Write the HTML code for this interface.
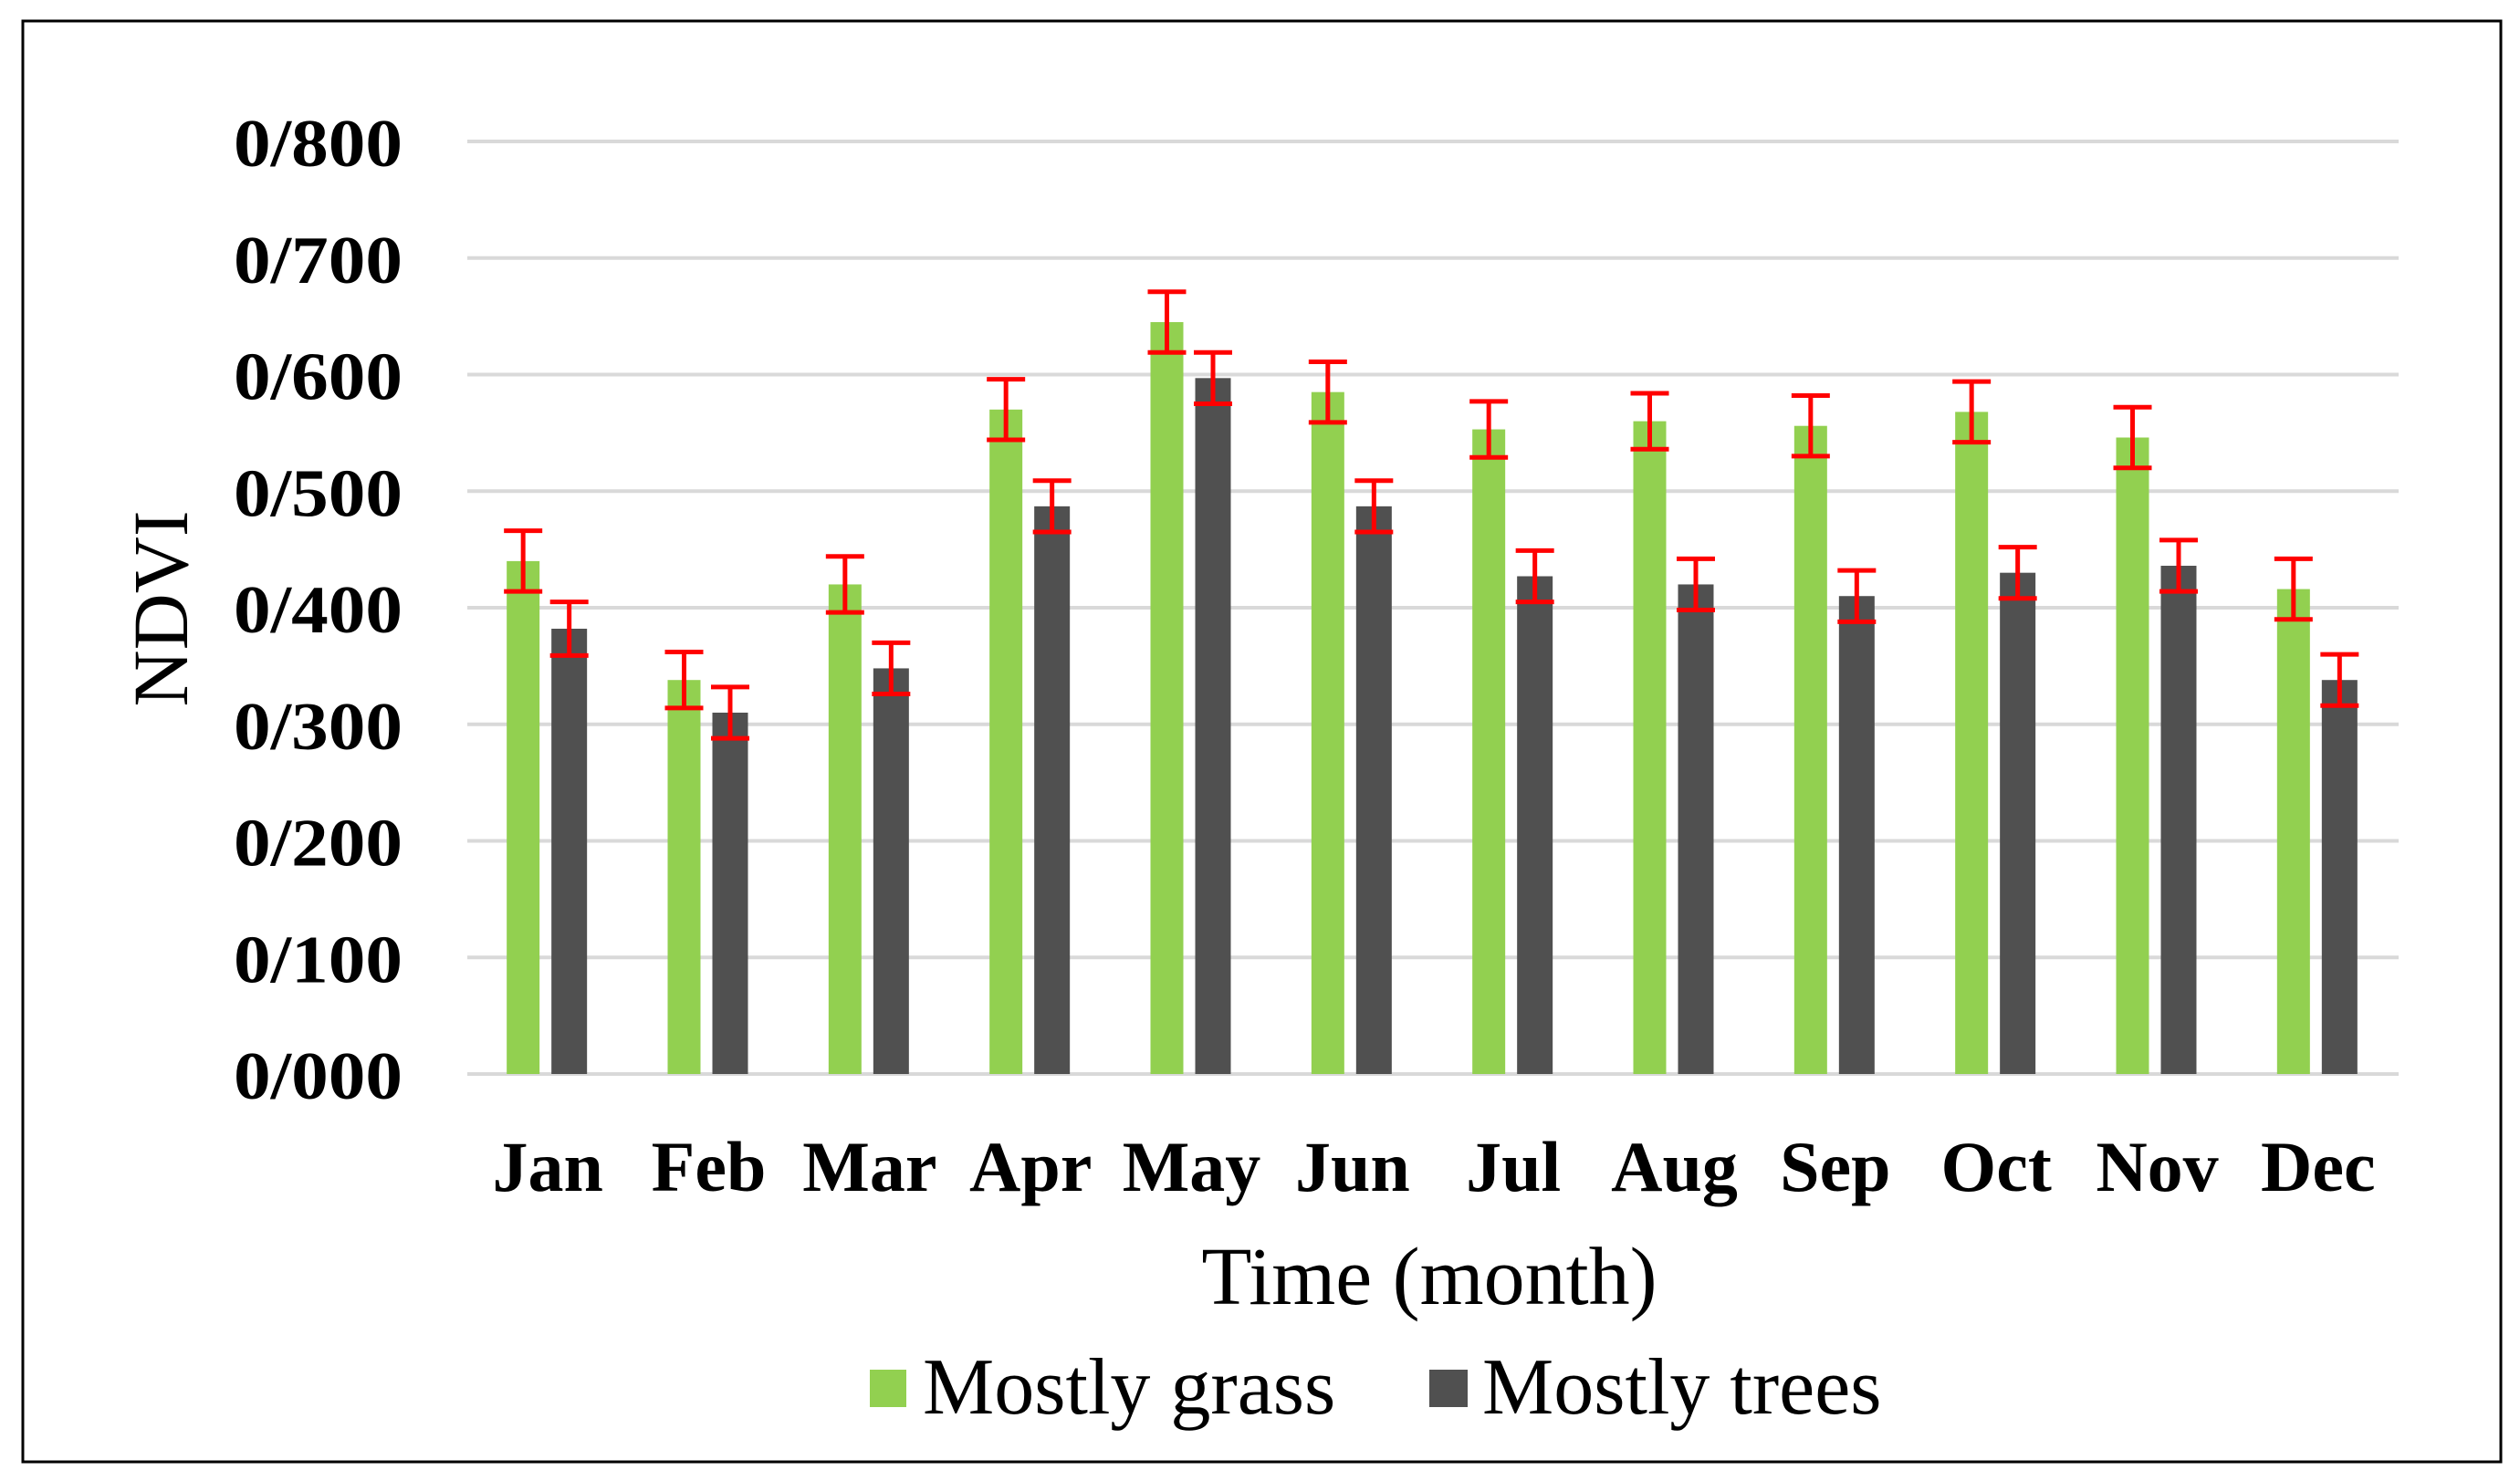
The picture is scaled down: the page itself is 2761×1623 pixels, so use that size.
<!DOCTYPE html>
<html><head><meta charset="utf-8"><style>
html,body{margin:0;padding:0;background:#fff;}
svg{display:block;}
text{font-family:"Liberation Serif",serif;fill:#000;}
</style></head><body>
<svg id="chart" width="2761" height="1623" viewBox="0 0 2761 1623">
<rect x="25" y="23" width="2715" height="1579" fill="#fff" stroke="#000" stroke-width="3"/>
<g id="grid"></g>
<g id="yticks"></g>
<g id="bars"></g>
<g id="xticks"></g>
<text x="176" y="667" font-size="86" text-anchor="middle" dominant-baseline="central" transform="rotate(-90 176 667)">NDVI</text>
<text x="1566" y="1429" font-size="90" text-anchor="middle">Time (month)</text>
<g>
<g>
<rect x="953" y="1501" width="40" height="41" fill="#92d050"/>
<text x="1011" y="1549" font-size="88">Mostly grass</text>
</g>
<g>
<rect x="1566" y="1501" width="42" height="41" fill="#505050"/>
<text x="1624" y="1549" font-size="88">Mostly trees</text>
</g>
</g>
</svg>
<script>
const categories=["Jan","Feb","Mar","Apr","May","Jun","Jul","Aug","Sep","Oct","Nov","Dec"];
const grassValues=[0.440,0.338,0.420,0.570,0.645,0.585,0.553,0.560,0.556,0.568,0.546,0.416];
const treesValues=[0.382,0.310,0.348,0.487,0.597,0.487,0.427,0.420,0.410,0.430,0.436,0.338];
const grassErrors=[0.026,0.024,0.024,0.026,0.026,0.026,0.024,0.024,0.026,0.026,0.026,0.026];
const treesErrors=[0.023,0.022,0.022,0.022,0.022,0.022,0.022,0.022,0.022,0.022,0.022,0.022];
const yTicks=[0,0.1,0.2,0.3,0.4,0.5,0.6,0.7,0.8];
const yTickLabels=["0/000","0/100","0/200","0/300","0/400","0/500","0/600","0/700","0/800"];

const NS="http://www.w3.org/2000/svg";
const X0=512,X1=2628,Y0=1177,Y1=155;
function y(v){return Y0-(v/0.8)*(Y0-Y1);}
const bw=(X1-X0)/categories.length;
function xc(i){return X0+bw*(i+0.5);}
function mk(tag,attrs,parent){const e=document.createElementNS(NS,tag);for(const k in attrs)e.setAttribute(k,attrs[k]);parent.appendChild(e);return e;}
const grid=document.getElementById('grid'),yt=document.getElementById('yticks'),bars=document.getElementById('bars'),xt=document.getElementById('xticks');
yTicks.forEach((t,i)=>{
  const l=mk('line',{x1:X0,x2:X1,y1:y(t),y2:y(t),stroke:'#d9d9d9','stroke-width':4},grid);
  
  
  const tx=mk('text',{x:256,y:y(t)+27,'font-size':74,'font-weight':'bold',textLength:185,lengthAdjust:'spacingAndGlyphs'},yt);
  tx.textContent=yTickLabels[i];
  
  
});
function errBar(cx,v,e){
  const g=mk('g',{stroke:'#ff0000','stroke-width':5},bars);
  
  
  mk('line',{x1:cx,x2:cx,y1:y(v+e),y2:y(v-e)},g);
  mk('line',{x1:cx-21,x2:cx+21,y1:y(v+e),y2:y(v+e)},g);
  mk('line',{x1:cx-21,x2:cx+21,y1:y(v-e),y2:y(v-e)},g);
}
categories.forEach((c,i)=>{
  const cx=xc(i);
  const gx=cx-45,tx=cx+4;
  const b1=mk('rect',{x:gx,y:y(grassValues[i]),width:36,height:Y0-y(grassValues[i]),fill:'#92d050'},bars);
  
  
  const b2=mk('rect',{x:tx,y:y(treesValues[i]),width:39,height:Y0-y(treesValues[i]),fill:'#505050'},bars);
  
  
  errBar(gx+18,grassValues[i],grassErrors[i]);
  errBar(tx+19.5,treesValues[i],treesErrors[i]);
  const t=mk('text',{x:cx,y:1305,'font-size':78,'font-weight':'bold','text-anchor':'middle'},xt);
  t.textContent=c;
  
  
});
</script>
</body></html>
